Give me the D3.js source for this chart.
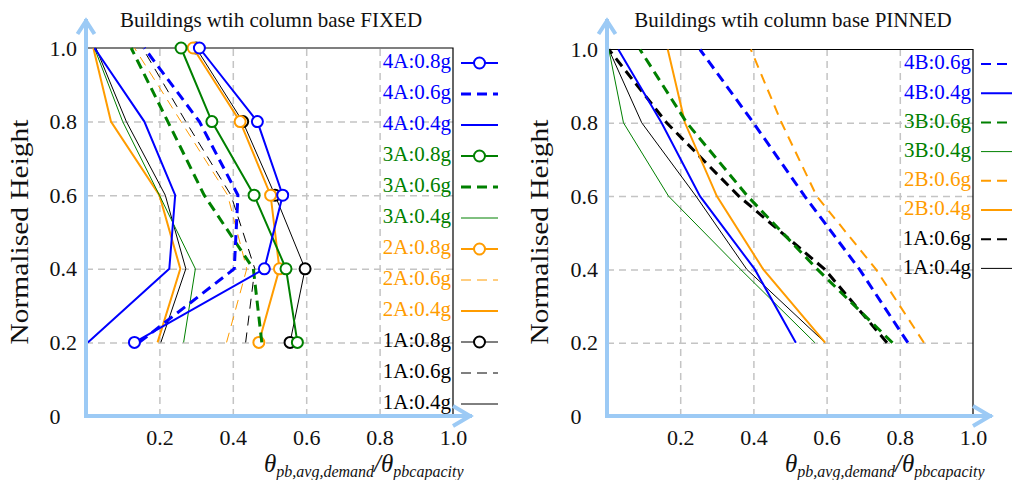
<!DOCTYPE html>
<html>
<head>
<meta charset="utf-8">
<script src="https://cdn.jsdelivr.net/npm/d3@7"></script>
<style>
  body { margin: 0; background: #fff; }
  svg, svg text { font-family: "Liberation Serif", "DejaVu Serif", serif; }
</style>
</head>
<body>
<svg id="chart" width="1012" height="480"></svg>
<script>
// normalised storey heights (y) shared by every curve
const heights = [0.2, 0.4, 0.6, 0.8, 1.0];
const xTicks = [0.2, 0.4, 0.6, 0.8, 1.0];
const yTicks = [0, 0.2, 0.4, 0.6, 0.8, 1.0];

// column base FIXED
const fixedLabels = ["4A:0.8g", "4A:0.6g", "4A:0.4g", "3A:0.8g", "3A:0.6g", "3A:0.4g",
                     "2A:0.8g", "2A:0.6g", "2A:0.4g", "1A:0.8g", "1A:0.6g", "1A:0.4g"];
const fixedValues = [
  [0.132, 0.486, 0.536, 0.467, 0.309],
  [0.145, 0.404, 0.414, 0.309, 0.159],
  [0.005, 0.227, 0.243, 0.159, 0.023],
  [0.576, 0.545, 0.458, 0.343, 0.259],
  [0.479, 0.456, 0.322, 0.223, 0.123],
  [0.266, 0.298, 0.200, 0.100, 0.023],
  [0.471, 0.527, 0.503, 0.420, 0.292],
  [0.383, 0.438, 0.386, 0.259, 0.132],
  [0.195, 0.257, 0.200, 0.068, 0.020],
  [0.556, 0.597, 0.515, 0.427, 0.300],
  [0.435, 0.460, 0.395, 0.272, 0.154],
  [0.204, 0.272, 0.216, 0.110, 0.027]
];

// column base PINNED
const pinnedLabels = ["4B:0.6g", "4B:0.4g", "3B:0.6g", "3B:0.4g",
                      "2B:0.6g", "2B:0.4g", "1A:0.6g", "1A:0.4g"];
const pinnedValues = [
  [0.822, 0.690, 0.540, 0.400, 0.254],
  [0.516, 0.404, 0.254, 0.149, 0.031],
  [0.780, 0.575, 0.384, 0.218, 0.090],
  [0.568, 0.365, 0.168, 0.045, 0.005],
  [0.866, 0.735, 0.573, 0.477, 0.393],
  [0.596, 0.427, 0.300, 0.213, 0.166],
  [0.765, 0.595, 0.360, 0.163, 0.005],
  [0.596, 0.382, 0.243, 0.095, 0.005]
];

// styling
const colorOf = { "4": "#0000ff", "3": "#008000", "2": "#ff9c00", "1": "#000000" };
const fixedWidths = [2, 3, 2, 2, 3, 1, 2, 1, 2, 1, 1, 1];
const pinnedWidths = [3, 2, 3, 1, 2, 2, 3, 1];
const axisBlue = "#9ccaf5";
const serif = "'Liberation Serif', 'DejaVu Serif', serif";

const svg = d3.select("#chart");

function drawPanel(cfg) {
  const x = d3.scaleLinear().domain([0, 1]).range([cfg.left, cfg.right]);
  const y = d3.scaleLinear().domain([0, 1]).range([416, cfg.top]);
  const g = svg.append("g");

  // dashed grid
  const gx = g.append("g").attr("transform", `translate(0,${y(0)})`)
    .call(d3.axisBottom(x).tickValues([0.2, 0.4, 0.6, 0.8]).tickSize(-(y(0) - y(1))).tickFormat(""));
  const gy = g.append("g").attr("transform", `translate(${x(0)},0)`)
    .call(d3.axisLeft(y).tickValues([0.2, 0.4, 0.6, 0.8]).tickSize(-(x(1) - x(0))).tickFormat(""));
  [gx, gy].forEach(a => {
    a.select(".domain").remove();
    a.selectAll("line").attr("stroke", "#c4c4c4").attr("stroke-width", 1.5).attr("stroke-dasharray", "7,5");
  });

  // black frame: top and right
  g.append("path")
    .attr("d", `M${x(0)},${y(1)}H${x(1)}V${y(0)}`)
    .attr("fill", "none").attr("stroke", "#000").attr("stroke-width", 1.2);

  // tick labels
  const tx = g.append("g").attr("transform", `translate(0,${y(0)})`)
    .call(d3.axisBottom(x).tickValues(xTicks).tickFormat(d3.format(".1f")).tickSize(0).tickPadding(13));
  const ty = g.append("g").attr("transform", `translate(${x(0)},0)`)
    .call(d3.axisLeft(y).tickValues(yTicks).tickFormat(d => d === 0 ? "0" : d3.format(".1f")(d)).tickSize(0).tickPadding(9));
  [tx, ty].forEach(a => {
    a.select(".domain").remove();
    a.attr("font-family", null).attr("font-size", null);
    a.selectAll("text").style("font-family", serif).style("font-size", "22px").attr("fill", "#111");
  });
  ty.selectAll("text").filter(d => d === 0).attr("x", -31).attr("text-anchor", "middle");

  // curves
  const line = d3.line().x(d => x(d[0])).y(d => y(d[1]));
  const order = d3.range(cfg.labels.length).reverse();
  order.forEach(i => {
    const lab = cfg.labels[i];
    const col = colorOf[lab[0]];
    const w = cfg.widths[i];
    const pts = cfg.values[i].map((v, k) => [v, heights[k]]);
    const dashed = lab.endsWith("0.6g");
    g.append("path").datum(pts)
      .attr("d", line)
      .attr("fill", "none").attr("stroke", col).attr("stroke-width", w)
      .attr("stroke-dasharray", dashed ? (w >= 3 ? "10,6" : "10,7") : null);
    if (lab.endsWith("0.8g")) {
      g.selectAll(null).data(pts).enter().append("circle")
        .attr("cx", d => x(d[0])).attr("cy", d => y(d[1])).attr("r", 5.5)
        .attr("fill", "#fff").attr("stroke", col).attr("stroke-width", 2);
    }
  });

  // legend
  cfg.labels.forEach((lab, i) => {
    const col = colorOf[lab[0]];
    const w = Math.min(cfg.widths[i], cfg.legendMaxW);
    const ly = cfg.legendY0 + i * cfg.legendStep;
    g.append("text").attr("x", x(1) - 2).attr("y", ly).attr("dy", "0.35em")
      .attr("text-anchor", "end").attr("font-size", 21).attr("fill", col).text(lab);
    const sx0 = x(1) + 8, sx1 = x(1) + 45;
    g.append("line").attr("x1", sx0).attr("x2", sx1).attr("y1", ly + 2).attr("y2", ly + 2)
      .attr("stroke", col).attr("stroke-width", w)
      .attr("stroke-dasharray", lab.endsWith("0.6g") ? "10,6" : null);
    if (lab.endsWith("0.8g")) {
      g.append("circle").attr("cx", (sx0 + sx1) / 2).attr("cy", ly + 2).attr("r", 5.5)
        .attr("fill", "#fff").attr("stroke", col).attr("stroke-width", 2);
    }
  });

  // light blue arrow axes
  const ax = g.append("g").attr("fill", "none").attr("stroke", axisBlue)
    .attr("stroke-width", 4).attr("stroke-linecap", "square");
  ax.append("path").attr("d", `M${x(0)},${y(0)}V21`);
  ax.append("path").attr("d", `M${x(0) - 8.5},34L${x(0)},21L${x(0) + 8.5},34`).attr("stroke-linecap", "butt");
  ax.append("path").attr("d", `M${x(0)},${y(0)}H${x(1) + 17}`);
  ax.append("path").attr("d", `M${x(1)},${y(0) - 10}L${x(1) + 17},${y(0)}L${x(1)},${y(0) + 10}`).attr("stroke-linecap", "butt");

  // titles
  g.append("text").attr("x", cfg.titleX).attr("y", 27).attr("text-anchor", "middle")
    .attr("font-size", 21).attr("fill", "#111").text(cfg.title);
  g.append("text").attr("transform", `translate(${cfg.yTitleX},232) rotate(-90)`)
    .attr("text-anchor", "middle").attr("font-size", 25).attr("fill", "#111")
    .attr("textLength", 225).attr("lengthAdjust", "spacingAndGlyphs")
    .text("Normalised Height");

  const xt = g.append("text").attr("x", cfg.xTitleX).attr("y", 472)
    .attr("font-style", "italic").attr("fill", "#111");
  xt.append("tspan").attr("font-size", 25).text("θ");
  xt.append("tspan").attr("font-size", 16).attr("dy", 5).text("pb,avg,demand");
  xt.append("tspan").attr("font-size", 25).attr("dy", -5).text("/");
  xt.append("tspan").attr("font-size", 25).text("θ");
  xt.append("tspan").attr("font-size", 16).attr("dy", 5).text("pbcapacity");
}

drawPanel({
  left: 86, right: 453, top: 48,
  labels: fixedLabels, values: fixedValues, widths: fixedWidths,
  legendY0: 61, legendStep: 31, legendMaxW: 3,
  title: "Buildings wtih column base FIXED", titleX: 271,
  yTitleX: 28, xTitleX: 264
});

drawPanel({
  left: 607, right: 973, top: 49.5,
  labels: pinnedLabels, values: pinnedValues, widths: pinnedWidths,
  legendY0: 62, legendStep: 29.2, legendMaxW: 2,
  title: "Buildings wtih column base PINNED", titleX: 793,
  yTitleX: 548, xTitleX: 785
});
</script>
</body>
</html>
